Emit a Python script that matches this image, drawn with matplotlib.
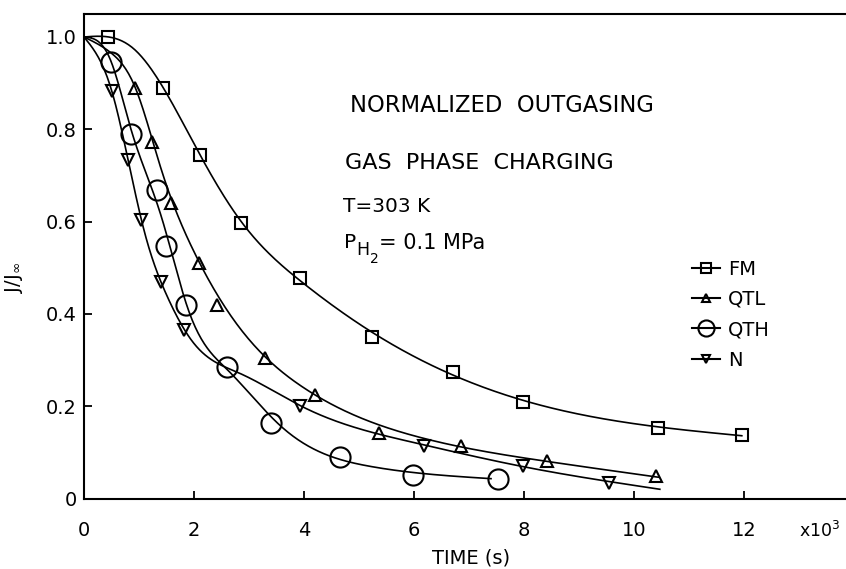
import numpy as np
import matplotlib
matplotlib.use("Agg")
import matplotlib.pyplot as plt
from matplotlib.lines import Line2D

plt.rcParams['font.family'] = ['DejaVu Sans']
plt.rcParams['mathtext.fontset'] = 'dejavusans'
plt.rcParams['mathtext.default'] = 'regular'

# measured points, time in 10^3 s, J/J_inf
fm_t = [0.44, 1.44, 2.11, 2.85, 3.93, 5.24, 6.71, 7.98, 10.44, 11.96]
fm_j = [1.0, 0.89, 0.745, 0.597, 0.478, 0.351, 0.275, 0.21, 0.153, 0.138]
qtl_t = [0.93, 1.24, 1.58, 2.09, 2.42, 3.29, 4.2, 5.37, 6.85, 8.41, 10.4]
qtl_j = [0.89, 0.773, 0.641, 0.511, 0.42, 0.305, 0.224, 0.142, 0.113, 0.081, 0.048]
qth_t = [0.49, 0.85, 1.33, 1.49, 1.85, 2.6, 3.4, 4.65, 5.98, 7.53]
qth_j = [0.946, 0.79, 0.668, 0.548, 0.42, 0.284, 0.164, 0.09, 0.05, 0.043]
n_t = [0.5, 0.8, 1.04, 1.4, 1.82, 3.93, 6.18, 7.98, 9.55]
n_j = [0.883, 0.734, 0.604, 0.47, 0.366, 0.2, 0.113, 0.07, 0.034]

# points
fm_ct = [0, 0.45, 0.9, 1.44, 2.11, 2.85, 3.93, 5.24, 6.71, 7.98, 10.44, 11.96]
fm_cj = [1.0, 1.0, 0.975, 0.89, 0.745, 0.6, 0.475, 0.355, 0.272, 0.212, 0.153, 0.136]
qtl_ct = [0, 0.5, 0.93, 1.24, 1.58, 2.09, 2.5, 3.29, 4.2, 5.37, 6.85, 8.41, 10.45]
qtl_cj = [1.0, 0.965, 0.89, 0.78, 0.65, 0.515, 0.425, 0.308, 0.225, 0.158, 0.113, 0.08, 0.046]
qth_ct = [0, 0.49, 0.85, 1.33, 1.49, 1.85, 2.6, 3.4, 4.65, 6.0, 7.4]
qth_cj = [1.0, 0.95, 0.795, 0.665, 0.55, 0.43, 0.284, 0.17, 0.093, 0.05, 0.043]
n_ct = [0, 0.5, 0.8, 1.04, 1.4, 1.82, 2.6, 3.93, 5.33, 6.18, 7.98, 9.55, 10.47]
n_cj = [1.0, 0.885, 0.735, 0.605, 0.47, 0.366, 0.284, 0.2, 0.143, 0.114, 0.07, 0.036, 0.02]

# spline knots used to smooth each traced line
fm_knots = [0, 0.9, 1.44, 2.11, 2.85, 3.93, 5.5, 8.0, 11.96]
qtl_knots = [0, 0.5, 0.93, 1.4, 2.0, 2.8, 4.0, 6.0, 8.4, 10.45]
qth_knots = [0, 0.49, 0.85, 1.4, 1.9, 2.6, 3.6, 5.2, 7.4]
n_knots = [0, 0.5, 0.8, 1.1, 1.5, 2.0, 2.8, 4.0, 6.0, 8.0, 10.47]

labels = ['FM', 'QTL', 'QTH', 'N']
markers = ['s', '^', 'o', 'v']
msizes = [8.5, 8, 14.5, 8]


def natural_spline(xk, yk, xs):
    xk = np.asarray(xk, float)
    yk = np.asarray(yk, float)
    xs = np.asarray(xs, float)
    n = len(xk)
    h = np.diff(xk)
    d = np.diff(yk) / h
    A = np.zeros((n - 2, n - 2))
    for i in range(n - 2):
        A[i, i] = 2 * (h[i] + h[i + 1])
        if i + 1 < n - 2:
            A[i, i + 1] = A[i + 1, i] = h[i + 1]
    M = np.zeros(n)
    M[1:-1] = np.linalg.solve(A, 6 * np.diff(d))
    i = np.clip(np.searchsorted(xk, xs) - 1, 0, n - 2)
    a = xk[i + 1] - xs
    b = xs - xk[i]
    return (M[i] * a**3 + M[i + 1] * b**3) / (6 * h[i]) \
        + (yk[i] / h[i] - M[i] * h[i] / 6) * a \
        + (yk[i + 1] / h[i] - M[i + 1] * h[i] / 6) * b


def smooth_line(tx, ty, knots, xs):
    # least-squares spline through the traced points, end points pinned
    tx = np.asarray(tx, float)
    ty = np.asarray(ty, float)
    basis = np.column_stack([natural_spline(knots, e, tx)
                             for e in np.eye(len(knots))])
    w = np.ones(len(tx))
    w[0] = w[-1] = 20
    coef, *_ = np.linalg.lstsq(basis * w[:, None], ty * w, rcond=None)
    return natural_spline(knots, coef, xs)


fig = plt.figure(figsize=(8.46, 5.69), dpi=100)
ax = fig.add_axes([84 / 846, 70.5 / 569, 762 / 846, 485 / 569])

points = [(fm_t, fm_j), (qtl_t, qtl_j), (qth_t, qth_j), (n_t, n_j)]
lines = [(fm_ct, fm_cj, fm_knots), (qtl_ct, qtl_cj, qtl_knots),
         (qth_ct, qth_cj, qth_knots), (n_ct, n_cj, n_knots)]

for (ct, cj, kn), (pt, pj), mk, ms in zip(lines, points, markers, msizes):
    xs = np.linspace(ct[0], ct[-1], 400)
    ax.plot(xs, smooth_line(ct, cj, kn, xs), color='black', lw=1.2)
    ax.plot(pt, pj, linestyle='none', marker=mk, ms=ms, mfc='none',
            mec='black', mew=1.5)

ax.set_xlim(0, 762 / 55)
ax.set_ylim(0, 485 / 461.5)
ax.spines['right'].set_visible(False)
for s in ['left', 'top', 'bottom']:
    ax.spines[s].set_linewidth(1.5)

ax.set_xticks([2, 4, 6, 8, 10, 12])
ax.set_yticks([0, 0.2, 0.4, 0.6, 0.8, 1.0])
ax.set_yticklabels(['0', '0.2', '0.4', '0.6', '0.8', '1.0'])
ax.tick_params(axis='both', direction='in', length=6, width=1.3, labelsize=14)
ax.tick_params(axis='x', pad=16)
ax.tick_params(axis='y', pad=5)
fig.text(84 / 846, 1 - 530 / 569, '0', fontsize=14, ha='center', va='center')
fig.text(799 / 846, 1 - 531 / 569, r'x10$^3$', fontsize=12.5, ha='left', va='center')

fig.text(471 / 846, 1 - 558 / 569, 'TIME (s)', fontsize=14, ha='center', va='center')
fig.text(14 / 846, 1 - 277 / 569, r'J/J$_\infty$', fontsize=14, rotation=90,
         ha='center', va='center')

fig.text(350 / 846, 1 - 105 / 569, 'NORMALIZED  OUTGASING', fontsize=16.3,
         ha='left', va='center')
fig.text(345 / 846, 1 - 163 / 569, 'GAS  PHASE  CHARGING', fontsize=16,
         ha='left', va='center')
fig.text(343 / 846, 1 - 207 / 569, 'T=303 K', fontsize=14.5, ha='left', va='center')
# pressure label with a large, stepped subscript
fig.text(344 / 846, 1 - 243 / 569, 'P', fontsize=14.5, ha='left', va='center')
fig.text(356 / 846, 1 - 250 / 569, 'H', fontsize=12.5, ha='left', va='center')
fig.text(369.5 / 846, 1 - 259 / 569, '2', fontsize=10, ha='left', va='center')
fig.text(379 / 846, 1 - 243 / 569, '= 0.1 MPa', fontsize=15, ha='left', va='center')

handles = [Line2D([], [], color='black', lw=1.5, marker=mk, ms=ms * 0.8,
                  mfc='none', mec='black', mew=1.5)
           for mk, ms in zip(markers, msizes)]
ax.legend(handles, labels, loc='upper left', frameon=False, fontsize=14,
          bbox_to_anchor=(682 / 846, 1 - 250 / 569), bbox_transform=fig.transFigure,
          borderpad=0, handlelength=1.43, handletextpad=0.45, labelspacing=0.58)

fig.savefig('out.png', dpi=100)
